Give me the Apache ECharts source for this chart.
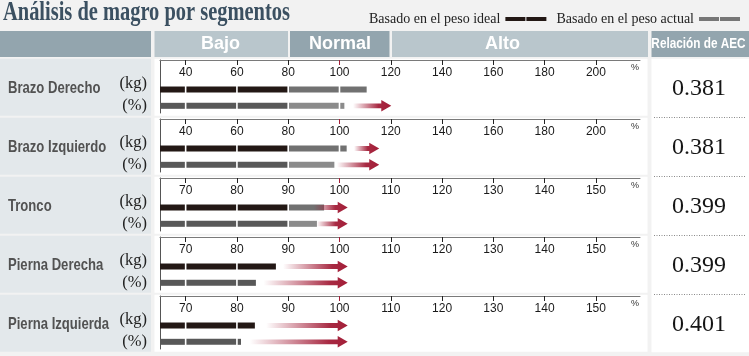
<!DOCTYPE html>
<html>
<head>
<meta charset="utf-8">
<script src="https://cdn.jsdelivr.net/npm/echarts@6/dist/echarts.min.js"></script>
<style>html,body{margin:0;padding:0;background:#f2f2f2}#c{width:749px;height:356px}</style>
</head>
<body>
<div id="c"></div>
<script>
// ---------- data ----------
const segmentNames = ['Brazo Derecho', 'Brazo Izquierdo', 'Tronco', 'Pierna Derecha', 'Pierna Izquierda'];
const kgValues  = [110.6, 102.8, 97.0, 87.6, 83.5];
const pctValues = [101.9, 98.0, 95.6, 83.7, 80.8];
const kgArrows  = [null, [105.7, 115.5], [95.0, 101.6], [89.0, 101.6], [85.7, 101.6]];
const pctArrows = [[105.3, 120.2], [99.0, 115.5], [95.6, 101.6], [85.2, 101.6], [82.5, 101.6]];
const aecValues = ['0.381', '0.381', '0.399', '0.399', '0.401'];
const armTicks   = [40, 60, 80, 100, 120, 140, 160, 180, 200];
const trunkTicks = [70, 80, 90, 100, 110, 120, 130, 140, 150];
const armRange   = [30, 217.2];
const trunkRange = [65, 158.6];
const armNormalLow = 80;
const trunkNormalLow = 90;
const scaleOfRow = ['arm', 'arm', 'trunk', 'trunk', 'trunk'];
const rangeNames = ['Bajo', 'Normal', 'Alto'];
const legendNames = ['Basado en el peso ideal', 'Basado en el peso actual'];
const aecTitle = 'Relación de AEC';
const titleText = 'Análisis de magro por segmentos';

// ---------- styles ----------
const C = {
  kgDark: '#231815', kgLight: '#717171',
  pctDark: '#585858', pctLight: '#8b8b8b',
  red: '#a31e38', hdrDark: '#93a5ae', hdrLight: '#b9c6cc',
  cell: '#e3e8eb', title: '#3b5061'
};
const SCALES = {
  arm:   { min: armRange[0], max: armRange[1], ticks: armTicks, normal: armNormalLow },
  trunk: { min: trunkRange[0], max: trunkRange[1], ticks: trunkTicks, normal: trunkNormalLow }
};

function barRenderer(sc, dark, light) {
  return function (params, api) {
    const v = api.value(0), row = api.value(1);
    const bounds = [sc.min].concat(sc.ticks.filter(t => t > sc.min && t < v), [v]);
    const yc = api.coord([v, row])[1];
    const h = 6, gap = 0.8;
    const children = [];
    for (let k = 0; k < bounds.length - 1; k++) {
      const x0 = api.coord([bounds[k], row])[0] + (k > 0 ? gap : 0);
      const x1 = api.coord([bounds[k + 1], row])[0] - (k < bounds.length - 2 ? gap : 0);
      children.push({
        type: 'rect',
        shape: { x: x0, y: yc - h / 2, width: Math.max(0, x1 - x0), height: h },
        style: { fill: bounds[k + 1] <= sc.normal + 1e-9 ? dark : light }
      });
    }
    return { type: 'group', children };
  };
}

function arrowRenderer(params, api) {
  const s = api.coord([api.value(0), api.value(2)]);
  const t = api.coord([api.value(1), api.value(2)]);
  const yc = s[1], sx = s[0], tx = t[0];
  const hl = 10, hh = 5.8, sh = 2.4;
  const stop = Math.max(0, Math.min(1, (tx - hl - sx) / (tx - sx)));
  return {
    type: 'polygon',
    shape: { points: [[sx, yc - sh], [tx - hl, yc - sh], [tx - hl, yc - hh], [tx, yc], [tx - hl, yc + hh], [tx - hl, yc + sh], [sx, yc + sh]] },
    style: {
      fill: new echarts.graphic.LinearGradient(0, 0, 1, 0, [
        { offset: 0, color: 'rgba(163,30,56,0)' },
        { offset: stop * 0.9, color: 'rgba(163,30,56,0.95)' },
        { offset: 1, color: 'rgba(163,30,56,1)' }
      ])
    }
  };
}

const grids = [], xAxes = [], yAxes = [], series = [], graphics = [];

// title
graphics.push({ type: 'text', x: 3, y: 13, scaleX: 0.73, z: 10,
  style: { text: titleText, fontFamily: 'Liberation Serif', fontWeight: 'bold', fontSize: 28, fill: C.title, verticalAlign: 'middle' } });

// header
const hdrY = 31, hdrH = 26;
[[0, 151, C.hdrDark], [154.5, 288, C.hdrLight], [290, 389.5, C.hdrDark], [392, 648, C.hdrLight], [651.5, 749, C.hdrDark]]
  .forEach(c => graphics.push({ type: 'rect', z: -10, shape: { x: c[0], y: hdrY, width: c[1] - c[0], height: hdrH }, style: { fill: c[2] } }));
[[220.5, rangeNames[0]], [340, rangeNames[1]], [502.5, rangeNames[2]]].forEach(t => graphics.push({
  type: 'text', x: t[0], y: hdrY + 13, z: 10,
  style: { text: t[1], fontFamily: 'Liberation Sans', fontWeight: 'bold', fontSize: 18, fill: '#ffffff', align: 'center', verticalAlign: 'middle' } }));
graphics.push({ type: 'text', x: 698.5, y: hdrY + 12.5, scaleX: 0.76, z: 10,
  style: { text: aecTitle, fontFamily: 'Liberation Sans', fontWeight: 'bold', fontSize: 15.5, fill: '#ffffff', align: 'center', verticalAlign: 'middle' } });

// AEC column
graphics.push({ type: 'rect', z: -10, shape: { x: 651.5, y: 58.7, width: 97.5, height: 293.5 }, style: { fill: '#ffffff' } });

for (let i = 0; i < segmentNames.length; i++) {
  const axisY = 60 + 59 * i;
  const sc = SCALES[scaleOfRow[i]];

  // backgrounds
  graphics.push({ type: 'rect', z: -10, shape: { x: 0, y: axisY - 1.3, width: 151, height: 57 }, style: { fill: C.cell } });
  graphics.push({ type: 'rect', z: -10, shape: { x: 154.5, y: axisY - 1.3, width: 493, height: 57 }, style: { fill: '#ffffff' } });
  if (i > 0) {
    graphics.push({ type: 'line', z: 5, shape: { x1: 654, y1: axisY - 1.5, x2: 745, y2: axisY - 1.5 },
      style: { stroke: '#8a8a8a', lineWidth: 1, lineDash: [1, 1.5] } });
  }
  // texts
  graphics.push({ type: 'text', x: 8, y: axisY + 28, scaleX: 0.77, z: 10,
    style: { text: segmentNames[i], fontFamily: 'Liberation Sans', fontWeight: 'bold', fontSize: 17, fill: '#525252', verticalAlign: 'middle' } });
  graphics.push({ type: 'text', x: 147, y: axisY + 24, z: 10,
    style: { text: '(kg)', fontFamily: 'Liberation Serif', fontSize: 16.5, fill: '#222', align: 'right', verticalAlign: 'middle' } });
  graphics.push({ type: 'text', x: 147, y: axisY + 45.5, z: 10,
    style: { text: '(%)', fontFamily: 'Liberation Serif', fontSize: 16.5, fill: '#222', align: 'right', verticalAlign: 'middle' } });
  graphics.push({ type: 'text', x: 699, y: axisY + 29, z: 10,
    style: { text: aecValues[i], fontFamily: 'Liberation Serif', fontSize: 24, fill: '#151515', align: 'center', verticalAlign: 'middle' } });

  grids.push({ left: 160, top: axisY, width: 480, height: 53 });

  xAxes.push({
    type: 'value', gridIndex: i, position: 'top', min: sc.min, max: sc.max,
    name: '%', nameLocation: 'end', nameGap: -9,
    nameTextStyle: { fontSize: 9, color: '#333', fontFamily: 'Liberation Sans', verticalAlign: 'top', padding: [3, 0, 0, 0] },
    axisLine: { show: true, onZero: false, lineStyle: { color: '#7a7a7a', width: 1 } },
    axisTick: { show: true, inside: true, length: 5, customValues: sc.ticks.filter(t => t !== 100), lineStyle: { color: '#222', width: 1 } },
    axisLabel: { show: true, inside: true, margin: 6.5, customValues: sc.ticks, fontSize: 12, fontFamily: 'Liberation Sans',
      color: v => (v === 100 ? C.red : '#1a1a1a') },
    splitLine: { show: false }
  });
  xAxes.push({
    type: 'value', gridIndex: i, position: 'top', min: sc.min, max: sc.max,
    axisLine: { show: false, onZero: false },
    axisTick: { show: true, inside: true, length: 5, customValues: [100], lineStyle: { color: C.red, width: 1 } },
    axisLabel: { show: false }, splitLine: { show: false }
  });
  yAxes.push({
    type: 'value', gridIndex: i, inverse: true, min: -1.81, max: 1.44,
    axisLine: { show: true, onZero: false, lineStyle: { color: '#555', width: 1 } },
    axisTick: { show: false }, axisLabel: { show: false }, splitLine: { show: false }
  });

  series.push({ type: 'custom', name: legendNames[0], xAxisIndex: 2 * i, yAxisIndex: i, silent: true, z: 3,
    itemStyle: { color: C.kgDark }, data: [[kgValues[i], 0]], renderItem: barRenderer(sc, C.kgDark, C.kgLight) });
  series.push({ type: 'custom', name: legendNames[1], xAxisIndex: 2 * i, yAxisIndex: i, silent: true, z: 3,
    itemStyle: { color: '#777' }, data: [[pctValues[i], 1]], renderItem: barRenderer(sc, C.pctDark, C.pctLight) });
  const arrows = [];
  if (kgArrows[i]) arrows.push([kgArrows[i][0], kgArrows[i][1], 0]);
  if (pctArrows[i]) arrows.push([pctArrows[i][0], pctArrows[i][1], 1]);
  series.push({ type: 'custom', xAxisIndex: 2 * i, yAxisIndex: i, silent: true, z: 4,
    encode: { x: [0, 1], y: 2 }, data: arrows, renderItem: arrowRenderer });
}

const iconPath = 'path://M0,0L20,0L20,4L0,4Z M21,0L41,0L41,4L21,4Z';
const chart = echarts.init(document.getElementById('c'), null, { renderer: 'canvas' });
chart.setOption({
  backgroundColor: '#f2f2f2',
  animation: false,
  legend: {
    right: 4, top: 7, itemGap: 10, itemWidth: 41, itemHeight: 4, align: 'right', selectedMode: false,
    textStyle: { fontFamily: 'Liberation Serif', fontSize: 14, color: '#222' },
    data: [
      { name: legendNames[0], icon: iconPath, itemStyle: { color: C.kgDark } },
      { name: legendNames[1], icon: iconPath, itemStyle: { color: '#777' } }
    ]
  },
  grid: grids, xAxis: xAxes, yAxis: yAxes, series: series, graphic: { elements: graphics }
});
</script>
</body>
</html>
